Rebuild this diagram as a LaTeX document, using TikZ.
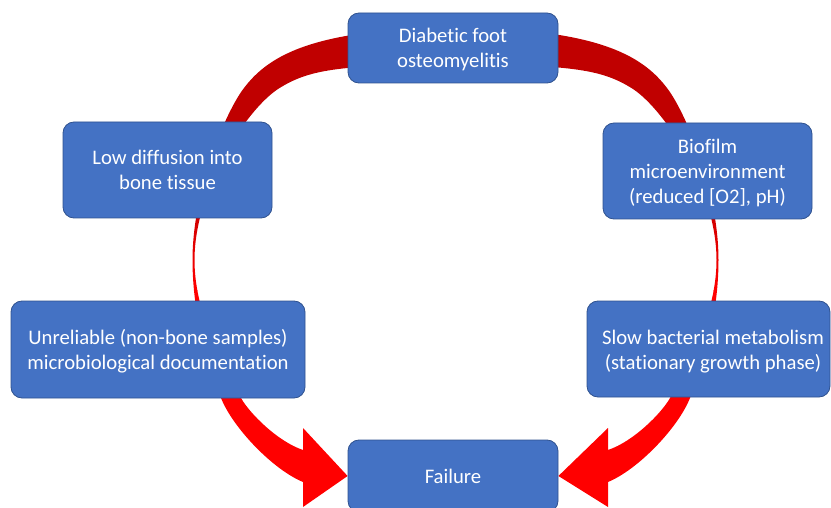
\documentclass[tikz,border=0pt]{standalone}
\usepackage{fontspec}
\setmainfont{Carlito}[Ligatures=CommonOff]
\usetikzlibrary{backgrounds}
\definecolor{boxblue}{HTML}{4472C4}
\definecolor{boxline}{HTML}{2F528F}
\definecolor{ringdark}{HTML}{C00000}
\definecolor{ringred}{HTML}{FF0000}
\newcommand\boxtext[1]{\raisebox{-2.5pt}[\height][\depth]{\begin{tabular}{@{}c@{}}#1\end{tabular}}}
\begin{document}
\begin{tikzpicture}[x=1pt,y=-1pt,
  box/.style={draw=boxline, line width=0.8pt, fill=boxblue, rounded corners=11pt,
    text=white, font=\fontsize{20.7}{25}\selectfont, inner sep=0pt}]
\useasboundingbox (0,0) rectangle (831,508);
\node[box, minimum width=210pt, minimum height=70pt] (dfo) at (453,48) {\boxtext{Diabetic foot\\osteomyelitis}};
\node[box, minimum width=209pt, minimum height=96pt] (low) at (167.5,170) {\boxtext{Low diffusion into\\bone tissue}};
\node[box, minimum width=209pt, minimum height=96pt] (bio) at (707.5,171) {\boxtext{Biofilm\\microenvironment\\(reduced [O2], pH)}};
\node[box, minimum width=294pt, minimum height=97pt] (unr) at (158,349.5) {\boxtext{Unreliable (non-bone samples)\\microbiological documentation}};
\node[box, minimum width=243pt, minimum height=96pt] (slow) at (708.5,349) {\hspace*{9pt}\boxtext{Slow bacterial metabolism\\(stationary growth phase)}};
\node[box, minimum width=210pt, minimum height=72pt] (fail) at (453,476) {\boxtext{Failure}};
\begin{pgfonlayer}{background}
\foreach \s/\a in {1/east,-1/west}{
  \begin{scope}[shift={(455.5,0)}, xscale=\s]
    \clip (0,28) .. controls (150,28) and (190,60) .. (211.5,88)
      .. controls (229.8,111.7) and (263,190) .. (263,260)
      .. controls (263,310) and (250.5,358) .. (234.5,398)
      .. controls (222.5,428) and (182.5,469.6) .. (152.5,482)
      -- (152.5,507) -- (fail.\a) -- (152.5,428) -- (152.5,450)
      .. controls (178,441.5) and (206.2,413) .. (214.5,398)
      .. controls (236.5,358) and (261,310) .. (261,260)
      .. controls (261,190) and (210.3,110.8) .. (177.5,89)
      .. controls (147.5,70) and (120,65) .. (0,64) -- cycle;
    \fill[ringdark] (-10,0) rectangle (320,190);
    \shade[top color=ringdark, bottom color=ringred] (-10,189.5) rectangle (320,290.5);
    \fill[ringred] (-10,290) rectangle (320,520);
  \end{scope}
}
\end{pgfonlayer}
\end{tikzpicture}
\end{document}
